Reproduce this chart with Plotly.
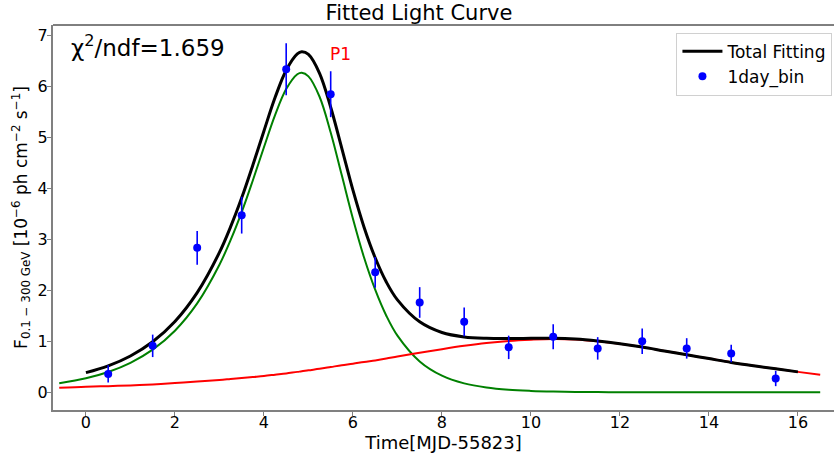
import plotly.graph_objects as go

# ---- data ----
bin_time = [0.5, 1.5, 2.5, 3.5, 4.5, 5.5, 6.5, 7.5, 8.5, 9.5, 10.5, 11.5, 12.5, 13.5, 14.5, 15.5]
bin_flux = [0.36, 0.91, 2.83, 3.47, 6.33, 5.84, 2.35, 1.76, 1.38, 0.88, 1.09, 0.86, 1.00, 0.86, 0.76, 0.27]
bin_err = [0.17, 0.22, 0.33, 0.36, 0.51, 0.45, 0.30, 0.30, 0.28, 0.23, 0.245, 0.22, 0.25, 0.20, 0.17, 0.15]

comp_time = [-0.6, 0, 0.5, 1, 1.5, 2, 2.5, 3, 3.25, 3.5, 3.75, 4, 4.25, 4.5, 4.75, 4.85, 5,
             5.25, 5.5, 5.75, 6, 6.25, 6.5, 6.75, 7, 7.5, 8, 8.5, 9, 9.5, 10, 10.5, 11,
             11.5, 12, 12.5, 13, 13.5, 14, 14.5, 15, 15.5, 16, 16.5]
flare_p1 = [0.176, 0.275, 0.398, 0.577, 0.835, 1.207, 1.742, 2.50, 2.98, 3.53, 4.15, 4.80, 5.43,
            5.94, 6.23, 6.26, 6.19, 5.79, 5.09, 4.25, 3.40, 2.64, 2.01, 1.50, 1.11, 0.605, 0.326,
            0.175, 0.094, 0.050, 0.027, 0.014, 0.0075, 0.004, 0.002, 0.001, 0.0005, 0.0003,
            0.0002, 0.0001, 0.0, 0.0, 0.0, 0.0]
slow_comp = [0.09, 0.11, 0.12, 0.135, 0.155, 0.18, 0.21, 0.24, 0.26, 0.28, 0.30, 0.32, 0.345,
             0.37, 0.40, 0.41, 0.43, 0.46, 0.495, 0.53, 0.56, 0.595, 0.625, 0.66, 0.70, 0.775,
             0.845, 0.91, 0.965, 1.005, 1.03, 1.045, 1.035, 1.0, 0.95, 0.885, 0.81, 0.735, 0.66,
             0.585, 0.52, 0.46, 0.40, 0.345]

total_time = [0, 0.5, 1, 1.5, 2, 2.5, 3, 3.25, 3.5, 3.75, 4, 4.25, 4.5, 4.75, 4.85, 5, 5.25,
              5.5, 5.75, 6, 6.25, 6.5, 6.75, 7, 7.5, 8, 8.5, 9, 9.5, 10, 10.5, 11, 11.5, 12,
              12.5, 13, 13.5, 14, 14.5, 15, 15.5, 16]
total_fit = [0.385, 0.518, 0.712, 0.99, 1.387, 1.952, 2.74, 3.24, 3.81, 4.45, 5.12, 5.775, 6.31,
             6.63, 6.67, 6.62, 6.25, 5.585, 4.78, 3.96, 3.235, 2.635, 2.16, 1.81, 1.38, 1.171,
             1.085, 1.059, 1.055, 1.057, 1.059, 1.0425, 1.004, 0.952, 0.886, 0.81, 0.735, 0.66,
             0.585, 0.52, 0.46, 0.40]

x_ticks = [0, 2, 4, 6, 8, 10, 12, 14, 16]
y_ticks = [0, 1, 2, 3, 4, 5, 6, 7]

FONT = "DejaVu Sans"

fig = go.Figure()
fig.add_trace(go.Scatter(x=comp_time, y=flare_p1, mode="lines", line=dict(color="#008000", width=2, shape="spline"),
                         showlegend=False, hoverinfo="skip"))
fig.add_trace(go.Scatter(x=comp_time, y=slow_comp, mode="lines", line=dict(color="#ff0000", width=2, shape="spline"),
                         showlegend=False, hoverinfo="skip"))
fig.add_trace(go.Scatter(x=total_time, y=total_fit, mode="lines", name="Total Fitting",
                         line=dict(color="black", width=3, shape="spline")))
fig.add_trace(go.Scatter(x=bin_time, y=bin_flux, mode="markers", name="1day_bin",
                         marker=dict(color="#0000ff", size=8),
                         error_y=dict(type="data", array=bin_err, color="#0000ff", thickness=1.6, width=0)))

fig.add_annotation(x=5.71, y=6.63, xref="x", yref="y", text="P1", showarrow=False,
                   font=dict(family=FONT, size=17, color="#ff0000"))
fig.add_annotation(x=0.02, y=0.99, xref="paper", yref="paper", xanchor="left", yanchor="top",
                   text="χ<sup>2</sup>/ndf=1.659", showarrow=False,
                   font=dict(family=FONT, size=23, color="black"))

fig.add_shape(type="line", xref="paper", yref="paper", x0=0, x1=1, y0=1, y1=1,
              line=dict(color="black", width=1))

fig.update_layout(
    width=834, height=457,
    margin=dict(l=53, r=0, t=25, b=47),
    paper_bgcolor="white", plot_bgcolor="white",
    font=dict(family=FONT, size=16, color="black"),
    title=dict(text="Fitted Light Curve", x=419 / 834, xref="container", xanchor="center",
               y=1 - 13 / 457, yref="container", yanchor="middle",
               font=dict(family=FONT, size=21, color="black")),
    legend=dict(x=0.998, y=0.98, xanchor="right", yanchor="top", bgcolor="white",
                bordercolor="#d0d0d0", borderwidth=1, font=dict(family=FONT, size=17),
                itemwidth=40, tracegroupgap=0),
    xaxis=dict(range=[-0.74, 16.81], tickvals=x_ticks, ticktext=[str(v) for v in x_ticks],
               showgrid=False, zeroline=False, showline=True, linecolor="#808080", linewidth=2,
               ticks="outside", tickcolor="#808080", ticklen=4, tickwidth=1,
               ticklabelstandoff=-7,
               tickfont=dict(family=FONT, size=16),
               title=dict(text="Time[MJD-55823]", font=dict(family=FONT, size=18), standoff=2)),
    yaxis=dict(range=[-0.347, 7.196], tickvals=y_ticks, ticktext=[str(v) for v in y_ticks],
               showgrid=False, zeroline=False, showline=True, linecolor="#808080", linewidth=2,
               ticks="outside", tickcolor="#808080", ticklen=4, tickwidth=1,
               ticklabelstandoff=-4,
               tickfont=dict(family=FONT, size=16),
               title=dict(text="F<sub>0.1 − 300 GeV</sub> [10<sup>−6</sup> ph cm<sup>−2</sup> s<sup>−1</sup>]",
                          font=dict(family=FONT, size=17), standoff=6)),
)

fig.write_html("out.html")
